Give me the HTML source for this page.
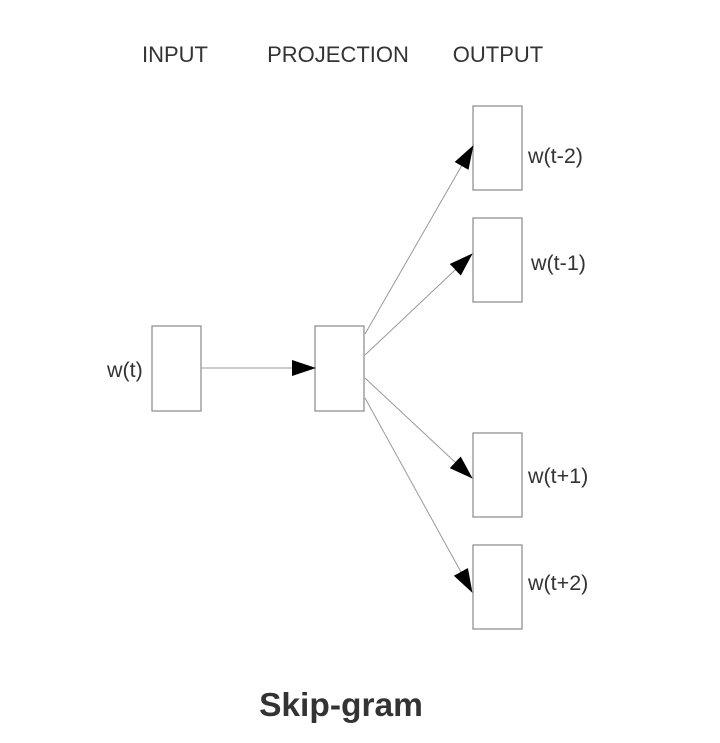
<!DOCTYPE html>
<html><head><style>body{margin:0;background:#fff}</style></head><body>
<svg width="720" height="738" xmlns="http://www.w3.org/2000/svg" font-family="Liberation Sans, sans-serif" fill="#333">
<defs><marker id="a" markerWidth="24" markerHeight="16" refX="23" refY="8" orient="auto" markerUnits="userSpaceOnUse"><path d="M0,0 L24,8 L0,16 Z" fill="#000"/></marker></defs>
<text x="175" y="62" font-size="22" text-anchor="middle">INPUT</text>
<text x="338" y="62" font-size="22" text-anchor="middle">PROJECTION</text>
<text x="498" y="62" font-size="22" text-anchor="middle">OUTPUT</text>
<g fill="#fff" stroke="#888" stroke-width="1.2">
<rect x="152" y="326" width="49" height="85"/>
<rect x="315" y="326" width="49" height="85"/>
<rect x="473" y="106" width="49" height="84"/>
<rect x="473" y="218" width="49" height="84"/>
<rect x="473" y="433" width="49" height="84"/>
<rect x="473" y="545" width="49" height="84"/>
</g>
<g stroke="#999" stroke-width="1" marker-end="url(#a)">
<line x1="201" y1="368" x2="315" y2="368"/>
<line x1="365" y1="334" x2="473" y2="146"/>
<line x1="365" y1="355" x2="472" y2="254"/>
<line x1="365" y1="378" x2="472" y2="478"/>
<line x1="365" y1="398" x2="472" y2="592"/>
</g>
<g font-size="21.5">
<text x="107" y="377">w(t)</text>
<text x="528" y="163">w(t-2)</text>
<text x="531" y="270">w(t-1)</text>
<text x="528" y="483">w(t+1)</text>
<text x="528" y="590">w(t+2)</text>
</g>
<text x="341" y="716" font-size="33.5" font-weight="bold" text-anchor="middle">Skip-gram</text>
</svg>
</body></html>
